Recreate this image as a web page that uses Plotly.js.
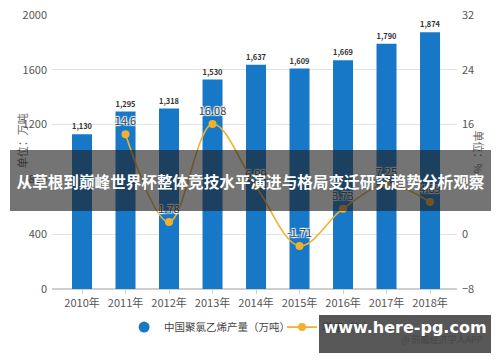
<!DOCTYPE html>
<html><head><meta charset="utf-8">
<script src="https://cdn.plot.ly/plotly-3.0.1.min.js"></script>
<style>
html,body{margin:0;padding:0;background:#fff}
#wrap{position:relative;width:500px;height:362px;overflow:hidden}
#chart{width:500px;height:362px}
.ov{position:absolute;display:flex;align-items:center;justify-content:center;color:#fff;font-weight:bold;white-space:nowrap}
#banner{left:10px;top:150px;width:481px;height:61px;background:rgba(30,30,30,0.62);
  font-family:"Noto Sans CJK SC","Noto Sans",sans-serif;font-size:15.6px}
#wm{left:319px;top:315px;width:172px;height:38px;background:rgba(45,45,45,0.8);
  font-family:"DejaVu Sans",sans-serif;font-size:16px;align-items:flex-start;padding-top:3px;box-sizing:border-box}
</style>
</head><body><div id="wrap"><div id="chart"></div>
<div id="banner" class="ov"></div><div id="wm" class="ov"></div></div>
<script>
const years = ['2010年','2011年','2012年','2013年','2014年','2015年','2016年','2017年','2018年'];
const output = [1130,1295,1318,1530,1637,1609,1669,1790,1874];
const growth = [null,14.6,1.78,16.08,6.99,-1.71,3.73,7.25,4.69];
const leftTicks = [0,400,800,1200,1600,2000];
const rightTicks = [-8,0,8,16,24,32];
const seriesNames = ['中国聚氯乙烯产量（万吨）','增速（%）'];
const bannerText = '从草根到巅峰世界杯整体竞技水平演进与格局变迁研究趋势分析观察';
const watermark = 'www.here-pg.com';

document.getElementById('banner').textContent = bannerText;
document.getElementById('wm').textContent = watermark;

const FONT = '"Noto Sans CJK SC", "Noto Sans", sans-serif';
const BLUE = '#1878c8';
const GOLD = '#efb12e';

const fmt = v => v.toLocaleString('en-US');

const traces = [
  {type:'bar', x:years, y:output, marker:{color:BLUE}, width:0.46,
   text:output.map(fmt), textposition:'outside', cliponaxis:false,
   textfont:{family:FONT, size:12, color:'#333', weight:'bold'},
   showlegend:false, hoverinfo:'skip'},
  {type:'scatter', mode:'lines+markers+text', x:years, y:growth, yaxis:'y2',
   line:{color:GOLD, width:1.6, shape:'spline', smoothing:1},
   marker:{color:GOLD, size:8},
   text:growth.map(v=>v===null?'':String(v)), textposition:'top center',
   textfont:{family:FONT, size:11, color:'#444', shadow:'1px 1px 1px #fff, -1px -1px 1px #fff, 1px -1px 1px #fff, -1px 1px 1px #fff'},
   cliponaxis:false, connectgaps:false, name:seriesNames[1], legend:'legend2', hoverinfo:'skip'},
  {type:'scatter', mode:'markers', x:[null], y:[null], marker:{color:BLUE, size:11, symbol:'circle'},
   name:seriesNames[0], hoverinfo:'skip'}
];

const legendCommon = {orientation:'h', yanchor:'middle', y:-0.139, xanchor:'left', bgcolor:'rgba(0,0,0,0)',
  font:{family:FONT, size:10.5, color:'#444'}, itemwidth:30};

const layout = {
  width:500, height:362,
  margin:{l:52, r:43, t:15, b:73},
  paper_bgcolor:'#fff', plot_bgcolor:'#fff',
  font:{family:FONT, color:'#555', size:11},
  bargap:0.5,
  xaxis:{type:'category', categoryorder:'array', categoryarray:years, range:[-0.69,8.62],
         showgrid:false, zeroline:false, showline:false, ticks:'outside', ticklen:4, tickcolor:'#cfcfcf',
         tickfont:{family:FONT, size:11, color:'#555'}},
  yaxis:{range:[0,2000], tickvals:leftTicks, showgrid:true, gridcolor:'#e3e3e3', gridwidth:1,
         zeroline:true, zerolinecolor:'#cfcfcf', zerolinewidth:1.2, showline:false, ticks:'',
         tickfont:{family:FONT, size:11, color:'#555'}, ticklabelstandoff:4},
  yaxis2:{overlaying:'y', side:'right', range:[-8,32], tickvals:rightTicks, showgrid:false, zeroline:false,
          showline:false, ticks:'', tickfont:{family:FONT, size:11, color:'#555'}, ticklabelstandoff:4},
  legend:Object.assign({}, legendCommon, {x:0.178}),
  legend2:Object.assign({}, legendCommon, {x:0.568}),
  annotations:[
    {text:'单位：万吨', xref:'paper', yref:'paper', x:-0.098, y:0.54, textangle:-90,
     showarrow:false, font:{family:FONT, size:11, color:'#666'}},
    {text:'单位：%', xref:'paper', yref:'paper', x:1.078, y:0.5, textangle:90,
     showarrow:false, font:{family:FONT, size:11, color:'#666'}},
    {text:'@ 前瞻经济学人APP', xref:'paper', yref:'paper', x:1.07, xanchor:'right', y:-0.215,
     showarrow:false, font:{family:FONT, size:9, color:'#aaa'}}
  ]
};

Plotly.newPlot('chart', traces, layout, {displayModeBar:false, staticPlot:true});
</script></body></html>
